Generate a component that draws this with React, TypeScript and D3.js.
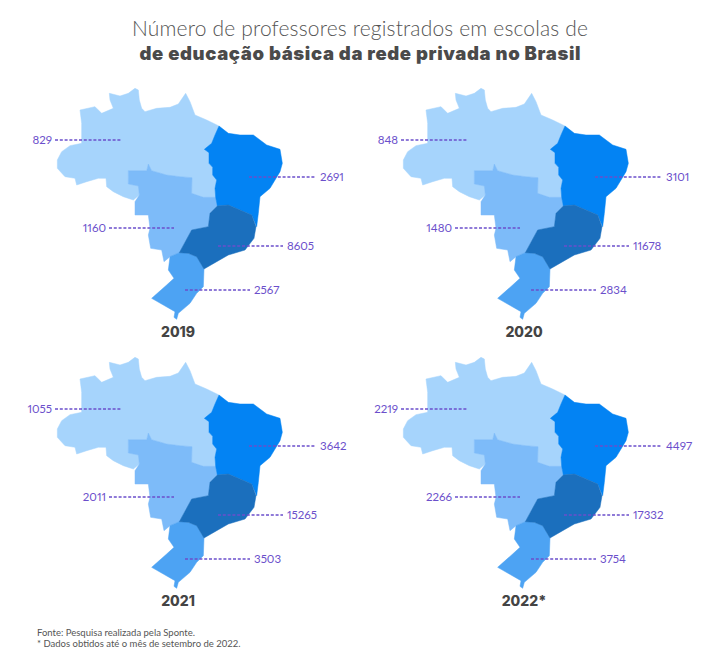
import React from "react";
import * as d3 from "d3";

const W = 720, H = 671;
const years = ["2019", "2020", "2021", "2022*"];
const norte = [829, 848, 1055, 2219];
const centroOeste = [1160, 1480, 2011, 2266];
const nordeste = [2691, 3101, 3642, 4497];
const sudeste = [8605, 11678, 15265, 17332];
const sul = [2567, 2834, 3503, 3754];

type P = [number, number];
const shapeNorte: P[] = [[268,40],[300,48],[325,40],[345,25],[355,30],[358,60],[365,85],[375,95],[410,85],[450,82],[475,72],[497,40],[510,65],[525,105],[560,120],[597,138],[585,165],[575,190],[553,208],[567,218],[567,250],[578,262],[578,285],[590,300],[585,325],[587,352],[550,352],[515,340],[516,293],[480,290],[440,285],[395,272],[385,252],[380,272],[325,272],[325,312],[355,318],[358,345],[340,360],[310,350],[280,335],[260,320],[258,295],[235,295],[200,305],[170,315],[165,295],[135,290],[112,265],[112,240],[125,215],[150,197],[185,190],[185,130],[180,90],[225,80],[245,100],[280,85],[270,60]];
const shapeCO: P[] = [[325,272],[380,272],[385,252],[395,272],[440,285],[480,290],[516,293],[515,340],[550,352],[587,352],[592,378],[570,400],[565,440],[515,450],[478,518],[450,530],[432,545],[425,510],[392,505],[385,465],[390,445],[385,405],[345,405],[345,365],[358,345],[355,318],[325,312]];
const shapeNE: P[] = [[597,138],[625,160],[660,165],[700,165],[740,195],[780,208],[787,250],[780,275],[750,325],[720,350],[715,400],[710,440],[695,405],[625,375],[592,378],[587,352],[585,325],[590,300],[578,285],[578,262],[567,250],[567,218],[553,208],[575,190],[585,165]];
const shapeSE: P[] = [[625,375],[695,405],[708,440],[702,475],[675,510],[625,525],[590,545],[552,567],[530,530],[505,520],[478,518],[515,450],[565,440],[570,400],[592,378]];
const shapeSul: P[] = [[478,518],[505,520],[530,530],[552,567],[550,620],[530,640],[510,670],[475,700],[470,718],[462,712],[465,695],[430,675],[395,655],[440,615],[462,595],[445,570],[450,530]];

const regions = [
  { shape: shapeNorte, color: "#A6D4FC" },
  { shape: shapeCO, color: "#7DBBF9" },
  { shape: shapeNE, color: "#0383F3" },
  { shape: shapeSul, color: "#4DA3F3" },
  { shape: shapeSE, color: "#1B6FBD" },
];

const leaders: { values: number[]; x1: number; x2: number; y: number; side: "l" | "r" }[] = [
  { values: norte, x1: 55, x2: 121, y: 140, side: "l" },
  { values: centroOeste, x1: 109, x2: 174, y: 228, side: "l" },
  { values: nordeste, x1: 249, x2: 316, y: 177, side: "r" },
  { values: sudeste, x1: 218, x2: 283, y: 246, side: "r" },
  { values: sul, x1: 185, x2: 250, y: 290, side: "r" },
];

const panelX = d3.scalePoint<number>().domain([0, 1]).range([0, 346]);
const panelY = d3.scalePoint<number>().domain([0, 1]).range([0, 269]);
const tx = d3.scaleLinear().domain([0, 960]).range([20, 340]);
const ty = d3.scaleLinear().domain([0, 780]).range([80, 340]);
const outline = d3.line<P>().x((d) => tx(d[0])).y((d) => ty(d[1]));
const sans = "Lato, 'Noto Sans', sans-serif";
const purple = "#6B4FCB";

export default function App() {
  return (
    <svg width={W} height={H} style={{ position: "absolute", left: 0, top: 0, background: "#fff" }}>
      <text x={360} y={36} textAnchor="middle" fontFamily={sans} fontWeight={300} fontSize={21} fill="#555" textLength={456}>
        Número de professores registrados em escolas de
      </text>
      <text x={360} y={60} textAnchor="middle" fontFamily="Inter, sans-serif" fontWeight={900} fontSize={18.5} fill="#4a4a4a" textLength={441}>
        de educação básica da rede privada no Brasil
      </text>
      {years.map((yr, i) => {
        const ox = panelX(i % 2)!;
        const oy = panelY(Math.floor(i / 2))!;
        return (
          <g key={yr} transform={`translate(${ox},${oy})`}>
            {regions.map((r, k) => (
              <path key={k} d={outline(r.shape)! + "Z"} fill={r.color} stroke={r.color} strokeWidth={0.5} strokeLinejoin="round" />
            ))}
            {leaders.map((l, k) => (
              <g key={k}>
                <line x1={l.x1} x2={l.x2} y1={l.y} y2={l.y} stroke={purple} strokeWidth={1.3} strokeDasharray="3 1.8" />
                <text
                  x={l.side === "l" ? l.x1 - 3 : l.x2 + 4}
                  y={l.y + 4}
                  textAnchor={l.side === "l" ? "end" : "start"}
                  fontFamily={sans}
                  fontSize={11.5}
                  fill={purple}
                  style={{ fontVariantNumeric: "proportional-nums" }}
                >
                  {l.values[i]}
                </text>
              </g>
            ))}
            <text x={178} y={337} textAnchor="middle" fontFamily="Inter, sans-serif" fontWeight={800} fontSize={14} fill="#444">
              {yr}
            </text>
          </g>
        );
      })}
      <text x={37} y={636} fontFamily={sans} fontSize={9.5} fill="#555">Fonte: Pesquisa realizada pela Sponte.</text>
      <text x={37} y={647} fontFamily={sans} fontSize={9.5} fill="#555">* Dados obtidos até o mês de setembro de 2022.</text>
    </svg>
  );
}
